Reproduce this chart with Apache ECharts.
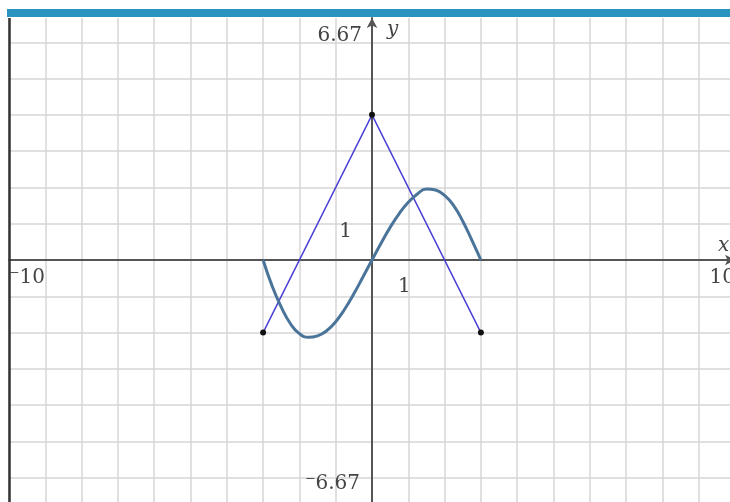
<!DOCTYPE html>
<html>
<head>
<meta charset="utf-8">
<script src="https://cdn.jsdelivr.net/npm/echarts@6/dist/echarts.min.js"></script>
<style>
  html, body { margin: 0; padding: 0; background: #fff; }
  #chart { width: 730px; height: 502px; }
</style>
</head>
<body>
<div id="chart"></div>
<script>
// Window of the graph
const xRange = [-10, 10];
const yRange = [-6.67, 6.67];
const xLabelValues = [-10, 1, 10];
const yLabelValues = [-6.67, 1, 6.67];
const yGridValues = [-6, -5, -4, -3, -2, -1, 0, 1, 2, 3, 4, 5, 6];

// Piecewise-linear "tent": vertices
const tentX = [-3, 0, 3];
const tentY = [-2, 4, -2];

// Smooth curve sampled across [-3, 3]
const curveX = [-3, -2.75, -2.5, -2.25, -2, -1.75, -1.5, -1.25, -1, -0.75, -0.5, -0.25,
                0, 0.25, 0.5, 0.75, 1, 1.25, 1.5, 1.75, 2, 2.25, 2.5, 2.75, 3];
const curveY = [0, -0.72, -1.30, -1.75, -2.03, -2.13, -2.09, -1.95, -1.70, -1.35, -0.93, -0.47,
                0, 0.46, 0.90, 1.28, 1.59, 1.82, 1.96, 1.93, 1.78, 1.50, 1.07, 0.55, 0];

const zip = (xs, ys) => xs.map((x, i) => [x, ys[i]]);

const FONT = 'DejaVu Serif';
const TEXT = '#444';
const AXIS = '#555';
const GRID = '#d6d6d6';

const chart = echarts.init(document.getElementById('chart'), null, { renderer: 'canvas' });

chart.setOption({
  animation: false,
  backgroundColor: '#fff',
  grid: { left: 9, right: -5, top: 18, bottom: 0, containLabel: false, outerBoundsMode: 'none' },
  xAxis: {
    type: 'value',
    position: 'bottom',
    min: xRange[0], max: xRange[1], interval: 1,
    axisLine: { onZero: false, lineStyle: { color: AXIS, width: 2 }, symbol: ['none', 'arrow'], symbolSize: [8, 10] },
    axisTick: { show: false },
    splitLine: { show: true, lineStyle: { color: GRID, width: 1.5 } },
    axisLabel: {
      customValues: xLabelValues,
      margin: 8,
      color: TEXT,
      fontFamily: FONT,
      fontSize: 20,
      alignMinLabel: 'left',
      alignMaxLabel: 'right',
      formatter: v => v < 0 ? '\u207B' + Math.abs(v) : (v === 1 ? '{one|1}' : String(v)),
      rich: { one: { fontFamily: FONT, fontSize: 20, color: TEXT, padding: [9, 8, 0, 0] } }
    },
    name: 'x',
    nameLocation: 'end',
    nameGap: -17,
    nameTextStyle: { fontFamily: FONT, fontStyle: 'italic', fontSize: 20, color: TEXT, verticalAlign: 'bottom', padding: [0, 0, 4, 0] }
  },
  yAxis: {
    type: 'value',
    position: 'left',
    min: yRange[0], max: yRange[1],
    axisLine: { onZero: false, lineStyle: { color: AXIS, width: 2 }, symbol: ['none', 'arrow'], symbolSize: [8, 10] },
    axisTick: { show: false, customValues: yGridValues },
    splitLine: { show: true, lineStyle: { color: GRID, width: 1.5 } },
    axisLabel: {
      customValues: yLabelValues,
      margin: 10,
      color: TEXT,
      fontFamily: FONT,
      fontSize: 20,
      formatter: v => {
        if (v > 6) return '{top|6.67}';
        if (v < -6) return '{bot|\u207B6.67}';
        return '{one|' + v + '}';
      },
      rich: {
        top: { fontFamily: FONT, fontSize: 20, color: TEXT, padding: [36, 0, 0, 0] },
        bot: { fontFamily: FONT, fontSize: 20, color: TEXT, padding: [0, 2, 36, 0] },
        one: { fontFamily: FONT, fontSize: 20, color: TEXT, padding: [16, 10, 0, 0] }
      }
    },
    name: 'y',
    nameLocation: 'end',
    nameGap: -22,
    nameTextStyle: { fontFamily: FONT, fontStyle: 'italic', fontSize: 20, color: TEXT, align: 'left', padding: [0, 0, 0, 15] }
  },
  series: [
    {
      name: 'frame',
      type: 'line',
      data: [],
      markLine: {
        silent: true,
        symbol: 'none',
        label: { show: false },
        lineStyle: { color: '#333', width: 2.5, type: 'solid' },
        data: [{ xAxis: xRange[0] }]
      }
    },
    {
      name: 'tent',
      type: 'line',
      data: zip(tentX, tentY),
      lineStyle: { color: '#4a3fd6', width: 1.5 },
      symbol: 'circle',
      symbolSize: 6,
      itemStyle: { color: '#111' },
      z: 3
    },
    {
      name: 'curve',
      type: 'line',
      data: zip(curveX, curveY),
      smooth: true,
      showSymbol: false,
      lineStyle: { color: '#4a7499', width: 3 },
      z: 4
    }
  ],
  graphic: [
    { type: 'rect', shape: { x: 0, y: 0, width: 730, height: 9 }, style: { fill: '#fff' }, z: 100 },
    { type: 'rect', shape: { x: 7, y: 9, width: 730, height: 8 }, style: { fill: '#2b93bf' }, z: 101 }
  ]
});

// Move both axes (with their labels) onto the origin, using the axes' own scales
const [ox, oy] = chart.convertToPixel({ gridIndex: 0 }, [0, 0]);
const [leftPx, bottomPx] = chart.convertToPixel({ gridIndex: 0 }, [xRange[0], yRange[0]]);
chart.setOption({
  xAxis: { offset: -(bottomPx - oy) },
  yAxis: { offset: -(ox - leftPx) }
});
</script>
</body>
</html>
